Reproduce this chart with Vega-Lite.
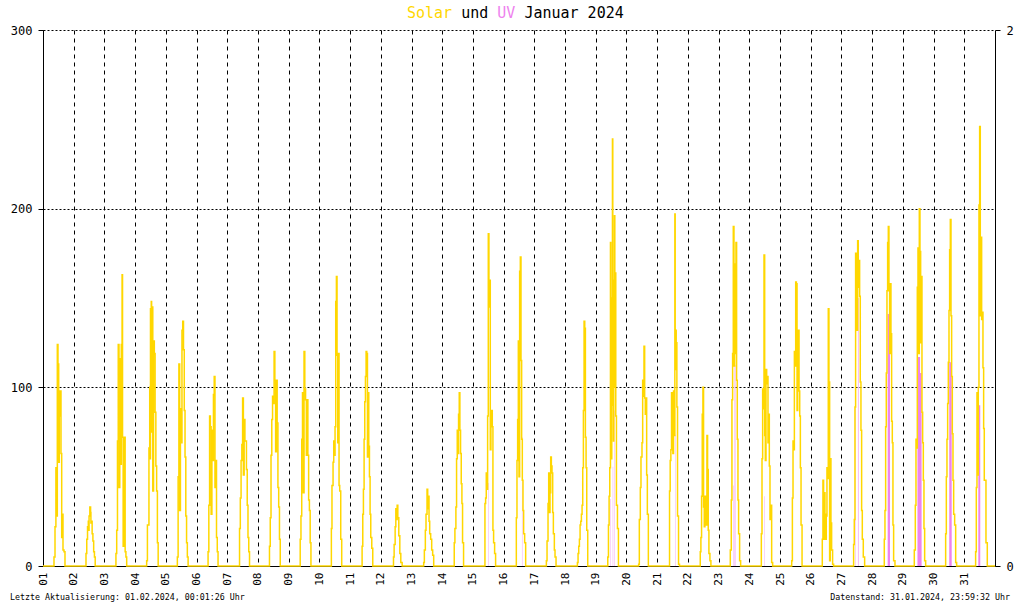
{
"$schema": "https://vega.github.io/schema/vega-lite/v6.json",
"width": 952, "height": 536,
"autosize": {"type": "none"},
"padding": {"left": 43, "top": 30, "right": 25, "bottom": 40},
"background": "white",
"config": {"view": {"stroke": null}, "font": "DejaVu Sans Mono",
  "axis": {"labelFont": "DejaVu Sans Mono", "domainColor": "black", "tickColor": "black", "labelColor": "black", "domainWidth": 1, "tickWidth": 1},
  "axisX": {"labelAngle": 270, "labelFontSize": 11, "labelPadding": 6, "ticks": false, "title": null, "grid": true, "gridDash": [4, 4], "gridColor": "black", "gridOpacity": 1, "gridWidth": 1, "labelOverlap": false}},
"datasets": {
"solar": [
{"t":1,"s":0},
{"t":1.358,"s":5},{"t":1.391,"s":22},{"t":1.42,"s":55},{"t":1.446,"s":28},{"t":1.466,"s":124},{"t":1.488,"s":113},{"t":1.511,"s":58},{"t":1.531,"s":84},{"t":1.554,"s":98},{"t":1.586,"s":63},{"t":1.609,"s":16},{"t":1.628,"s":29},{"t":1.651,"s":9},{"t":1.684,"s":8},{"t":1.716,"s":0},
{"t":2.4,"s":7},{"t":2.425,"s":15},{"t":2.45,"s":22},{"t":2.475,"s":25},{"t":2.49,"s":20},{"t":2.5,"s":28},{"t":2.525,"s":33},{"t":2.55,"s":30},{"t":2.56,"s":24},{"t":2.575,"s":25},{"t":2.6,"s":18},{"t":2.625,"s":14},{"t":2.65,"s":8},{"t":2.675,"s":5},{"t":2.7,"s":0},
{"t":3.375,"s":7},{"t":3.4,"s":20},{"t":3.425,"s":70},{"t":3.45,"s":124},{"t":3.475,"s":44},{"t":3.5,"s":116},{"t":3.525,"s":57},{"t":3.55,"s":124},{"t":3.575,"s":163},{"t":3.59,"s":72},{"t":3.61,"s":11},{"t":3.63,"s":67},{"t":3.65,"s":72},{"t":3.675,"s":8},{"t":3.7,"s":5},{"t":3.725,"s":0},
{"t":4.375,"s":3},{"t":4.4,"s":23},{"t":4.45,"s":66},{"t":4.475,"s":100},{"t":4.487,"s":60},{"t":4.5,"s":144},{"t":4.525,"s":148},{"t":4.537,"s":75},{"t":4.55,"s":145},{"t":4.575,"s":42},{"t":4.6,"s":126},{"t":4.625,"s":119},{"t":4.65,"s":86},{"t":4.675,"s":56},{"t":4.7,"s":42},{"t":4.725,"s":13},{"t":4.75,"s":0},
{"t":5.375,"s":5},{"t":5.4,"s":50},{"t":5.425,"s":113},{"t":5.45,"s":31},{"t":5.475,"s":88},{"t":5.5,"s":69},{"t":5.525,"s":132},{"t":5.55,"s":137},{"t":5.575,"s":121},{"t":5.6,"s":87},{"t":5.625,"s":61},{"t":5.65,"s":28},{"t":5.675,"s":13},{"t":5.7,"s":5},{"t":5.725,"s":0},
{"t":6.375,"s":8},{"t":6.4,"s":34},{"t":6.425,"s":84},{"t":6.45,"s":78},{"t":6.475,"s":29},{"t":6.5,"s":76},{"t":6.525,"s":59},{"t":6.55,"s":96},{"t":6.575,"s":106},{"t":6.6,"s":44},{"t":6.625,"s":59},{"t":6.65,"s":16},{"t":6.675,"s":8},{"t":6.7,"s":0},
{"t":7.4,"s":21},{"t":7.425,"s":38},{"t":7.45,"s":59},{"t":7.475,"s":68},{"t":7.5,"s":94},{"t":7.525,"s":51},{"t":7.55,"s":82},{"t":7.575,"s":70},{"t":7.6,"s":70},{"t":7.625,"s":54},{"t":7.65,"s":34},{"t":7.675,"s":16},{"t":7.7,"s":8},{"t":7.725,"s":0},
{"t":8.375,"s":11},{"t":8.4,"s":27},{"t":8.425,"s":62},{"t":8.45,"s":82},{"t":8.475,"s":95},{"t":8.5,"s":91},{"t":8.525,"s":120},{"t":8.55,"s":104},{"t":8.575,"s":64},{"t":8.6,"s":104},{"t":8.625,"s":80},{"t":8.65,"s":44},{"t":8.675,"s":33},{"t":8.7,"s":15},{"t":8.725,"s":0},
{"t":9.375,"s":15},{"t":9.4,"s":28},{"t":9.425,"s":71},{"t":9.45,"s":97},{"t":9.475,"s":41},{"t":9.5,"s":120},{"t":9.525,"s":99},{"t":9.55,"s":93},{"t":9.575,"s":62},{"t":9.6,"s":93},{"t":9.625,"s":62},{"t":9.65,"s":37},{"t":9.675,"s":31},{"t":9.7,"s":13},{"t":9.725,"s":0},
{"t":10.39,"s":21},{"t":10.41,"s":45},{"t":10.445,"s":58},{"t":10.467,"s":70},{"t":10.489,"s":62},{"t":10.51,"s":78},{"t":10.532,"s":148},{"t":10.554,"s":162},{"t":10.575,"s":118},{"t":10.597,"s":69},{"t":10.619,"s":119},{"t":10.64,"s":45},{"t":10.662,"s":42},{"t":10.695,"s":15},{"t":10.727,"s":0},
{"t":11.391,"s":11},{"t":11.413,"s":29},{"t":11.434,"s":43},{"t":11.456,"s":71},{"t":11.478,"s":92},{"t":11.5,"s":106},{"t":11.521,"s":120},{"t":11.543,"s":119},{"t":11.565,"s":61},{"t":11.586,"s":97},{"t":11.608,"s":67},{"t":11.63,"s":50},{"t":11.651,"s":29},{"t":11.673,"s":16},{"t":11.706,"s":10},{"t":11.738,"s":0},
{"t":12.413,"s":5},{"t":12.434,"s":12},{"t":12.467,"s":22},{"t":12.489,"s":32},{"t":12.51,"s":26},{"t":12.532,"s":34},{"t":12.554,"s":27},{"t":12.586,"s":17},{"t":12.619,"s":7},{"t":12.651,"s":2},{"t":12.695,"s":0},
{"t":13.396,"s":2},{"t":13.418,"s":9},{"t":13.45,"s":20},{"t":13.472,"s":29},{"t":13.505,"s":43},{"t":13.527,"s":32},{"t":13.548,"s":39},{"t":13.57,"s":25},{"t":13.592,"s":18},{"t":13.624,"s":15},{"t":13.657,"s":9},{"t":13.689,"s":6},{"t":13.722,"s":0},
{"t":14.391,"s":13},{"t":14.413,"s":21},{"t":14.445,"s":33},{"t":14.467,"s":60},{"t":14.489,"s":76},{"t":14.51,"s":63},{"t":14.532,"s":85},{"t":14.554,"s":97},{"t":14.575,"s":76},{"t":14.597,"s":63},{"t":14.619,"s":46},{"t":14.641,"s":35},{"t":14.662,"s":13},{"t":14.695,"s":0},
{"t":15.391,"s":35},{"t":15.413,"s":38},{"t":15.434,"s":52},{"t":15.456,"s":43},{"t":15.478,"s":84},{"t":15.5,"s":186},{"t":15.521,"s":145},{"t":15.543,"s":160},{"t":15.565,"s":65},{"t":15.586,"s":78},{"t":15.608,"s":87},{"t":15.63,"s":78},{"t":15.651,"s":20},{"t":15.673,"s":13},{"t":15.706,"s":7},{"t":15.738,"s":0},
{"t":16.413,"s":27},{"t":16.434,"s":59},{"t":16.456,"s":82},{"t":16.478,"s":126},{"t":16.5,"s":50},{"t":16.521,"s":165},{"t":16.543,"s":173},{"t":16.565,"s":115},{"t":16.586,"s":71},{"t":16.608,"s":48},{"t":16.63,"s":31},{"t":16.651,"s":18},{"t":16.684,"s":13},{"t":16.717,"s":0},
{"t":17.391,"s":3},{"t":17.413,"s":14},{"t":17.445,"s":35},{"t":17.467,"s":52},{"t":17.489,"s":30},{"t":17.51,"s":41},{"t":17.532,"s":61},{"t":17.554,"s":56},{"t":17.575,"s":52},{"t":17.597,"s":30},{"t":17.619,"s":18},{"t":17.651,"s":9},{"t":17.673,"s":5},{"t":17.706,"s":0},
{"t":18.402,"s":2},{"t":18.423,"s":7},{"t":18.445,"s":11},{"t":18.467,"s":15},{"t":18.489,"s":23},{"t":18.51,"s":25},{"t":18.532,"s":29},{"t":18.554,"s":34},{"t":18.575,"s":55},{"t":18.597,"s":87},{"t":18.619,"s":137},{"t":18.641,"s":133},{"t":18.662,"s":72},{"t":18.684,"s":55},{"t":18.706,"s":20},{"t":18.738,"s":0},
{"t":19.391,"s":5},{"t":19.413,"s":23},{"t":19.434,"s":39},{"t":19.456,"s":55},{"t":19.478,"s":181},{"t":19.489,"s":70},{"t":19.5,"s":132},{"t":19.51,"s":60},{"t":19.521,"s":100},{"t":19.532,"s":150},{"t":19.543,"s":239},{"t":19.554,"s":90},{"t":19.565,"s":143},{"t":19.576,"s":70},{"t":19.586,"s":110},{"t":19.597,"s":160},{"t":19.608,"s":196},{"t":19.62,"s":100},{"t":19.63,"s":164},{"t":19.651,"s":84},{"t":19.673,"s":34},{"t":19.706,"s":21},{"t":19.738,"s":0},
{"t":20.396,"s":1},{"t":20.418,"s":26},{"t":20.45,"s":44},{"t":20.472,"s":61},{"t":20.505,"s":69},{"t":20.527,"s":104},{"t":20.548,"s":95},{"t":20.57,"s":123},{"t":20.592,"s":94},{"t":20.613,"s":85},{"t":20.635,"s":94},{"t":20.657,"s":51},{"t":20.679,"s":29},{"t":20.712,"s":0},
{"t":21.402,"s":42},{"t":21.423,"s":59},{"t":21.445,"s":65},{"t":21.467,"s":97},{"t":21.489,"s":84},{"t":21.51,"s":63},{"t":21.532,"s":98},{"t":21.554,"s":73},{"t":21.575,"s":197},{"t":21.586,"s":110},{"t":21.597,"s":132},{"t":21.619,"s":125},{"t":21.641,"s":89},{"t":21.662,"s":28},{"t":21.695,"s":1},{"t":21.727,"s":0},
{"t":22.402,"s":8},{"t":22.423,"s":16},{"t":22.445,"s":39},{"t":22.467,"s":85},{"t":22.489,"s":100},{"t":22.51,"s":33},{"t":22.532,"s":22},{"t":22.554,"s":39},{"t":22.575,"s":35},{"t":22.597,"s":23},{"t":22.619,"s":73},{"t":22.641,"s":54},{"t":22.662,"s":20},{"t":22.684,"s":7},{"t":22.717,"s":3},{"t":22.749,"s":0},
{"t":23.38,"s":9},{"t":23.413,"s":37},{"t":23.434,"s":93},{"t":23.456,"s":119},{"t":23.478,"s":190},{"t":23.5,"s":112},{"t":23.521,"s":119},{"t":23.543,"s":169},{"t":23.565,"s":181},{"t":23.586,"s":104},{"t":23.608,"s":71},{"t":23.63,"s":37},{"t":23.651,"s":18},{"t":23.684,"s":3},{"t":23.717,"s":0},
{"t":24.391,"s":18},{"t":24.413,"s":60},{"t":24.434,"s":99},{"t":24.456,"s":88},{"t":24.478,"s":174},{"t":24.5,"s":73},{"t":24.521,"s":59},{"t":24.543,"s":110},{"t":24.565,"s":102},{"t":24.586,"s":106},{"t":24.608,"s":69},{"t":24.63,"s":85},{"t":24.651,"s":56},{"t":24.673,"s":26},{"t":24.706,"s":34},{"t":24.727,"s":2},{"t":24.76,"s":0},
{"t":25.38,"s":3},{"t":25.402,"s":38},{"t":25.423,"s":70},{"t":25.445,"s":65},{"t":25.467,"s":120},{"t":25.489,"s":112},{"t":25.51,"s":159},{"t":25.532,"s":158},{"t":25.554,"s":87},{"t":25.575,"s":117},{"t":25.597,"s":132},{"t":25.619,"s":98},{"t":25.641,"s":84},{"t":25.662,"s":55},{"t":25.684,"s":23},{"t":25.717,"s":0},
{"t":26.376,"s":15},{"t":26.397,"s":48},{"t":26.419,"s":15},{"t":26.441,"s":41},{"t":26.463,"s":29},{"t":26.484,"s":15},{"t":26.506,"s":28},{"t":26.528,"s":55},{"t":26.55,"s":49},{"t":26.571,"s":144},{"t":26.593,"s":103},{"t":26.615,"s":3},{"t":26.636,"s":60},{"t":26.658,"s":24},{"t":26.68,"s":9},{"t":26.712,"s":1},{"t":26.745,"s":0},
{"t":27.396,"s":12},{"t":27.418,"s":26},{"t":27.44,"s":89},{"t":27.461,"s":175},{"t":27.483,"s":165},{"t":27.505,"s":132},{"t":27.527,"s":182},{"t":27.548,"s":156},{"t":27.57,"s":171},{"t":27.592,"s":151},{"t":27.613,"s":103},{"t":27.635,"s":76},{"t":27.657,"s":31},{"t":27.679,"s":15},{"t":27.711,"s":5},{"t":27.755,"s":0},
{"t":28.395,"s":15},{"t":28.417,"s":31},{"t":28.439,"s":78},{"t":28.46,"s":108},{"t":28.482,"s":154},{"t":28.504,"s":181},{"t":28.526,"s":190},{"t":28.547,"s":154},{"t":28.569,"s":119},{"t":28.591,"s":158},{"t":28.612,"s":130},{"t":28.634,"s":81},{"t":28.656,"s":69},{"t":28.677,"s":23},{"t":28.699,"s":3},{"t":28.743,"s":0},
{"t":29.372,"s":9},{"t":29.405,"s":34},{"t":29.427,"s":71},{"t":29.448,"s":66},{"t":29.47,"s":156},{"t":29.492,"s":178},{"t":29.514,"s":119},{"t":29.535,"s":200},{"t":29.557,"s":176},{"t":29.579,"s":125},{"t":29.6,"s":162},{"t":29.622,"s":86},{"t":29.644,"s":69},{"t":29.666,"s":48},{"t":29.687,"s":21},{"t":29.709,"s":3},{"t":29.742,"s":0},
{"t":30.393,"s":18},{"t":30.415,"s":50},{"t":30.436,"s":71},{"t":30.458,"s":91},{"t":30.48,"s":114},{"t":30.502,"s":143},{"t":30.523,"s":177},{"t":30.545,"s":194},{"t":30.567,"s":140},{"t":30.588,"s":106},{"t":30.61,"s":74},{"t":30.632,"s":48},{"t":30.654,"s":29},{"t":30.686,"s":23},{"t":30.719,"s":2},{"t":30.751,"s":0},
{"t":31.369,"s":8},{"t":31.391,"s":44},{"t":31.413,"s":97},{"t":31.434,"s":51},{"t":31.456,"s":100},{"t":31.478,"s":202},{"t":31.5,"s":246},{"t":31.521,"s":140},{"t":31.543,"s":184},{"t":31.565,"s":138},{"t":31.586,"s":142},{"t":31.608,"s":111},{"t":31.63,"s":77},{"t":31.651,"s":48},{"t":31.673,"s":48},{"t":31.706,"s":13},{"t":31.749,"s":0},
{"t":32,"s":0}
],
"uv": [
{"t":1,"u":0},
{"t":15.5,"u":0.31},{"t":15.511,"u":0},
{"t":16.597,"u":0.48},{"t":16.608,"u":0},
{"t":19.478,"u":0.25},{"t":19.489,"u":0},{"t":19.554,"u":0.37},{"t":19.565,"u":0},{"t":19.608,"u":0.58},{"t":19.619,"u":0},
{"t":21.586,"u":0.49},{"t":21.597,"u":0},
{"t":23.489,"u":0.3},{"t":23.5,"u":0},{"t":23.521,"u":0.79},{"t":23.532,"u":0},{"t":23.554,"u":0.75},{"t":23.565,"u":0},
{"t":24.489,"u":0.26},{"t":24.5,"u":0},
{"t":27.462,"u":0.59},{"t":27.473,"u":0},{"t":27.537,"u":1.0},{"t":27.555,"u":0},
{"t":28.505,"u":0.94},{"t":28.58,"u":0},
{"t":29.475,"u":0.6},{"t":29.49,"u":0.78},{"t":29.56,"u":0.72},{"t":29.61,"u":0},
{"t":30.51,"u":0.76},{"t":30.59,"u":0},
{"t":31.456,"u":0.6},{"t":31.52,"u":0},
{"t":32,"u":0}
],
"title": [
{"word":"Solar","pos":12.853,"part":"Solar"},
{"word":"und","pos":14.617,"part":"text"},
{"word":"UV","pos":15.793,"part":"UV"},
{"word":"Januar 2024","pos":16.676,"part":"text"}
]
},
"layer": [
{"data": {"name": "uv"},
 "mark": {"type": "area", "interpolate": "step-after", "color": "#EE82EE", "opacity": 1},
 "encoding": {
  "x": {"field": "t", "type": "quantitative", "scale": {"domain": [1, 32], "nice": false, "zero": false},
        "axis": {"values": [1,2,3,4,5,6,7,8,9,10,11,12,13,14,15,16,17,18,19,20,21,22,23,24,25,26,27,28,29,30,31], "labelExpr": "datum.value < 10 ? '0' + datum.value : '' + datum.value", "title": null}},
  "y": {"field": "u", "type": "quantitative", "scale": {"domain": [0, 2], "nice": false, "zero": true},
        "axis": {"orient": "right", "values": [0, 2], "title": null, "grid": false, "tickSize": 5, "labelPadding": 6, "labelFontSize": 12, "domainColor": "black"}}
 }},
{"layer": [
 {"data": {"name": "solar"},
  "mark": {"type": "line", "interpolate": "step-after", "color": "#FFD700", "strokeWidth": 1.5},
  "encoding": {
   "x": {"field": "t", "type": "quantitative", "scale": {"domain": [1, 32], "nice": false, "zero": false},
         "axis": {"values": [1,2,3,4,5,6,7,8,9,10,11,12,13,14,15,16,17,18,19,20,21,22,23,24,25,26,27,28,29,30,31], "labelExpr": "datum.value < 10 ? '0' + datum.value : '' + datum.value", "title": null}},
   "y": {"field": "s", "type": "quantitative", "scale": {"domain": [0, 300], "nice": false},
         "axis": {"values": [0, 100, 200, 300], "title": null, "tickSize": 5, "labelPadding": 6, "labelFontSize": 12,
                  "grid": true, "gridDash": [2, 2], "gridColor": "black", "gridOpacity": 1, "gridWidth": 1}}
  }},
 {"data": {"name": "title"},
  "mark": {"type": "text", "font": "DejaVu Sans Mono", "fontSize": 15, "align": "left", "baseline": "middle", "dy": -17},
  "encoding": {
   "x": {"field": "pos", "type": "quantitative", "axis": {"values": [1,2,3,4,5,6,7,8,9,10,11,12,13,14,15,16,17,18,19,20,21,22,23,24,25,26,27,28,29,30,31], "labelExpr": "datum.value < 10 ? '0' + datum.value : '' + datum.value", "title": null}},
   "y": {"datum": 300, "type": "quantitative"},
   "text": {"field": "word"},
   "color": {"field": "part", "type": "nominal", "scale": {"domain": ["Solar", "UV", "text"], "range": ["#FFD700", "#EE82EE", "black"]}, "legend": null}
  }},
 {"data": {"values": [{"label": "Letzte Aktualisierung: 01.02.2024, 00:01:26 Uhr", "pos": 1}]},
  "mark": {"type": "text", "color": "black", "font": "DejaVu Sans Mono", "fontSize": 8.3, "align": "left", "baseline": "middle", "dx": -33, "dy": 32},
  "encoding": {"x": {"field": "pos", "type": "quantitative", "axis": {"values": [1,2,3,4,5,6,7,8,9,10,11,12,13,14,15,16,17,18,19,20,21,22,23,24,25,26,27,28,29,30,31], "labelExpr": "datum.value < 10 ? '0' + datum.value : '' + datum.value", "title": null}}, "y": {"datum": 0, "type": "quantitative"}, "text": {"field": "label"}}},
 {"data": {"values": [{"label": "Datenstand: 31.01.2024, 23:59:32 Uhr", "pos": 32}]},
  "mark": {"type": "text", "color": "black", "font": "DejaVu Sans Mono", "fontSize": 8.3, "align": "right", "baseline": "middle", "dx": 15, "dy": 32},
  "encoding": {"x": {"field": "pos", "type": "quantitative", "axis": {"values": [1,2,3,4,5,6,7,8,9,10,11,12,13,14,15,16,17,18,19,20,21,22,23,24,25,26,27,28,29,30,31], "labelExpr": "datum.value < 10 ? '0' + datum.value : '' + datum.value", "title": null}}, "y": {"datum": 0, "type": "quantitative"}, "text": {"field": "label"}}}
 ]}
],
"resolve": {"scale": {"y": "independent"}, "axis": {"y": "independent"}}
}
